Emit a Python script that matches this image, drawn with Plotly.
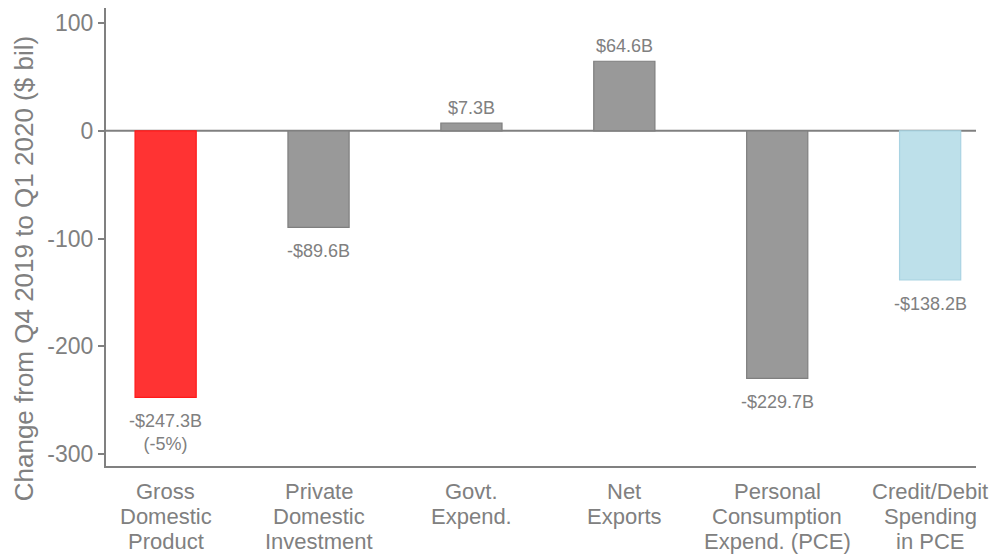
import plotly.graph_objects as go

categories = [
    ["Gross", "Domestic", "Product"],
    ["Private", "Domestic", "Investment"],
    ["Govt.", "Expend."],
    ["Net", "Exports"],
    ["Personal", "Consumption", "Expend. (PCE)"],
    ["Credit/Debit", "Spending", "in PCE"],
]
values = [-247.3, -89.6, 7.3, 64.6, -229.7, -138.2]
labels = ["-$247.3B<br>(-5%)", "-$89.6B", "$7.3B", "$64.6B", "-$229.7B", "-$138.2B"]
fill_colors = ["#FF3333", "#999999", "#999999", "#999999", "#999999", "#BDE0EA"]
line_colors = ["#FF1A1A", "#7F7F7F", "#7F7F7F", "#7F7F7F", "#7F7F7F", "#A9D3E2"]
y_ticks = [100, 0, -100, -200, -300]
y_tick_text = ["100", "0", "-100", "-200", "-300"]
y_title = "Change from Q4 2019 to Q1 2020 ($ bil)"

GRAY = "#808080"
FONT = "Liberation Sans, Arial, sans-serif"

x_pos = list(range(len(categories)))

fig = go.Figure(
    go.Bar(
        x=x_pos,
        y=values,
        width=0.4,
        marker=dict(color=fill_colors, line=dict(color=line_colors, width=1.2)),
        hoverinfo="skip",
    )
)

# value labels beyond the end of each bar
for xi, v, lab in zip(x_pos, values, labels):
    fig.add_annotation(
        x=xi, y=v, xref="x", yref="y",
        text=lab, showarrow=False,
        yanchor="bottom" if v >= 0 else "top",
        yshift=3 if v >= 0 else -12,
        font=dict(size=18, color=GRAY, family=FONT),
        align="center",
    )

# category labels under the axis, one line at a time for tight line spacing
for xi, lines in zip(x_pos, categories):
    for i, line in enumerate(lines):
        fig.add_annotation(
            x=xi, y=0, xref="x", yref="paper",
            text=line, showarrow=False,
            yanchor="middle", yshift=-(25 + 25 * i),
            font=dict(size=22, color=GRAY, family=FONT),
        )

# y-axis title
fig.add_annotation(
    x=-0.094, y=0.43, xref="paper", yref="paper",
    text=y_title, textangle=-90, showarrow=False,
    xanchor="center", yanchor="middle",
    font=dict(size=26, color=GRAY, family=FONT),
)

# zero reference line
fig.add_shape(
    type="line", xref="paper", x0=0, x1=1, yref="y", y0=0, y1=0,
    line=dict(color=GRAY, width=2), layer="below",
)

fig.update_layout(
    width=995,
    height=557,
    margin=dict(l=106, r=19, t=8, b=91),
    plot_bgcolor="white",
    paper_bgcolor="white",
    showlegend=False,
    font=dict(family=FONT, color=GRAY),
    xaxis=dict(
        range=[-0.39, 5.3],
        showticklabels=False,
        showgrid=False,
        zeroline=False,
        showline=True,
        linecolor=GRAY,
        linewidth=2,
        ticks="",
    ),
    yaxis=dict(
        range=[-311, 114],
        tickvals=y_ticks,
        ticktext=y_tick_text,
        showgrid=False,
        zeroline=False,
        showline=True,
        linecolor=GRAY,
        linewidth=2,
        ticks="outside",
        ticklen=6,
        tickwidth=2,
        tickcolor=GRAY,
        automargin=False,
        tickfont=dict(size=23, color=GRAY, family=FONT),
    ),
)

fig.write_html("out.html")
